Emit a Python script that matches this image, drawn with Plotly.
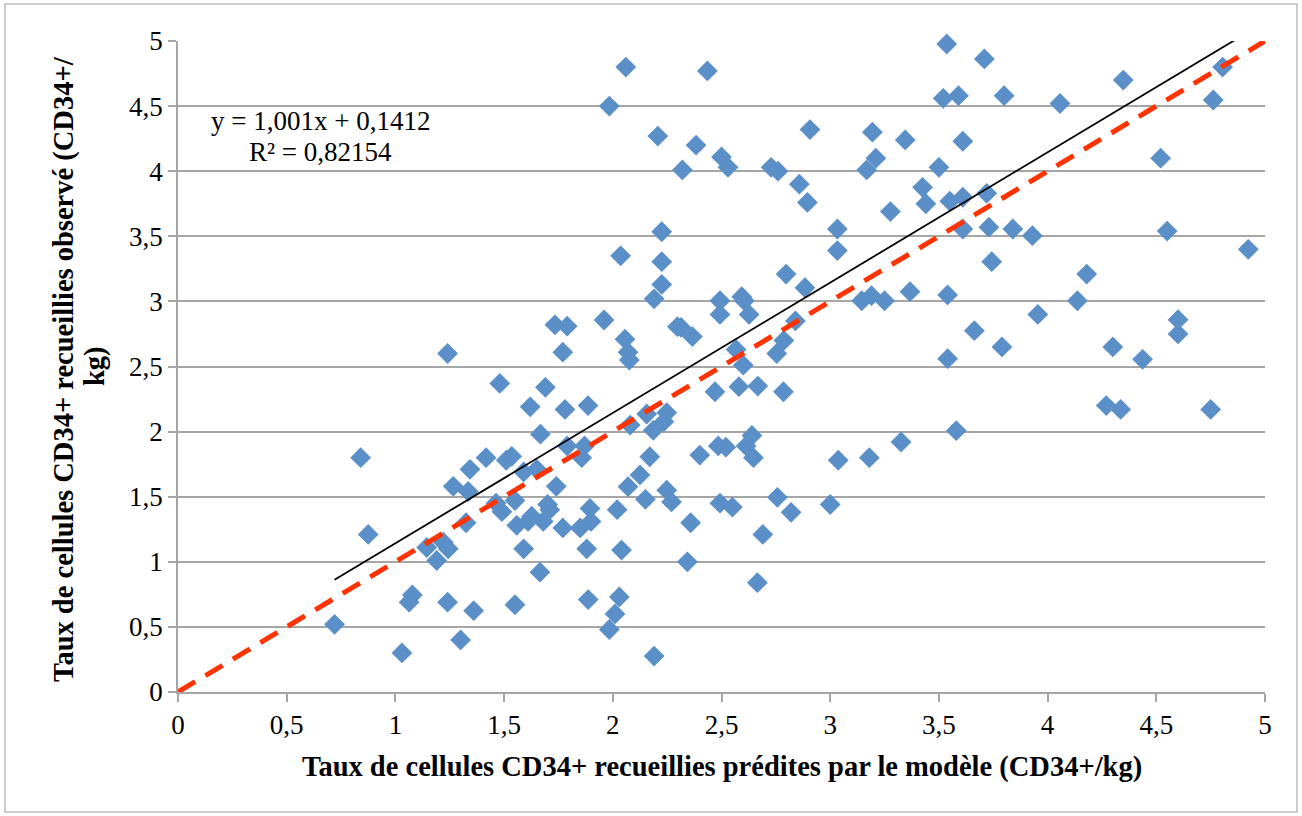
import plotly.graph_objects as go

# ---- data ----
predicted = [
    0.72, 0.84, 0.875, 1.03, 1.063, 1.078, 1.144, 1.19, 1.22, 1.243,
    1.24, 1.24, 1.266, 1.30, 1.325, 1.335, 1.343, 1.36, 1.417, 1.463,
    1.48, 1.49, 1.51, 1.535, 1.55, 1.55, 1.558, 1.59, 1.59, 1.61,
    1.62, 1.627, 1.65, 1.665, 1.667, 1.68, 1.69, 1.70, 1.71, 1.734,
    1.74, 1.77, 1.77, 1.78, 1.79, 1.79, 1.85, 1.857, 1.87, 1.88,
    1.886, 1.887, 1.895, 1.90, 1.96, 1.984, 1.984, 2.01, 2.02, 2.04,
    2.03, 2.036, 2.06, 2.056, 2.07, 2.076, 2.07, 2.08, 2.125, 2.15,
    2.156, 2.17, 2.186, 2.19, 2.19, 2.207, 2.225, 2.225, 2.225, 2.235,
    2.248, 2.248, 2.27, 2.297, 2.314, 2.32, 2.343, 2.358, 2.366, 2.383,
    2.40, 2.435, 2.47, 2.485, 2.493, 2.493, 2.493, 2.50, 2.52, 2.53,
    2.55, 2.567, 2.58, 2.593, 2.60, 2.605, 2.613, 2.627, 2.64, 2.647,
    2.665, 2.667, 2.69, 2.728, 2.754, 2.757, 2.76, 2.785, 2.787, 2.797,
    2.82, 2.84, 2.858, 2.884, 2.895, 2.907, 3.00, 3.033, 3.033, 3.037,
    3.145, 3.168, 3.18, 3.19, 3.194, 3.21, 3.25, 3.277, 3.326, 3.345,
    3.367, 3.425, 3.44, 3.50, 3.52, 3.536, 3.54, 3.54, 3.55, 3.58,
    3.59, 3.61, 3.61, 3.61, 3.663, 3.709, 3.72, 3.73, 3.743, 3.79,
    3.80, 3.84, 3.93, 3.955, 4.057, 4.137, 4.18, 4.27, 4.30, 4.336,
    4.348, 4.437, 4.52, 4.55, 4.60, 4.60, 4.75, 4.762, 4.805, 4.923,
]
observed = [
    0.52, 1.80, 1.21, 0.30, 0.69, 0.745, 1.11, 1.01, 1.15, 1.10,
    0.69, 2.60, 1.58, 0.40, 1.30, 1.54, 1.71, 0.625, 1.80, 1.45,
    2.37, 1.385, 1.78, 1.81, 0.67, 1.47, 1.28, 1.10, 1.69, 1.31,
    2.19, 1.35, 1.71, 0.92, 1.98, 1.31, 2.34, 1.44, 1.40, 2.82,
    1.58, 2.61, 1.26, 2.17, 1.89, 2.81, 1.26, 1.80, 1.89, 1.10,
    2.20, 0.71, 1.41, 1.31, 2.857, 4.50, 0.48, 0.60, 1.40, 1.09,
    0.73, 3.35, 4.80, 2.71, 2.61, 2.55, 1.577, 2.05, 1.667, 1.48,
    2.135, 1.807, 2.01, 0.276, 3.02, 4.27, 3.535, 3.305, 3.13, 2.076,
    2.145, 1.55, 1.46, 2.806, 2.80, 4.01, 1.00, 1.30, 2.73, 4.20,
    1.82, 4.77, 2.306, 1.89, 3.005, 2.90, 1.45, 4.11, 1.88, 4.03,
    1.42, 2.63, 2.345, 3.036, 2.51, 3.005, 1.89, 2.90, 1.97, 1.80,
    0.84, 2.35, 1.21, 4.03, 2.60, 1.495, 4.00, 2.306, 2.70, 3.21,
    1.38, 2.85, 3.90, 3.105, 3.76, 4.32, 1.44, 3.556, 3.39, 1.78,
    3.005, 4.01, 1.80, 3.044, 4.30, 4.10, 3.005, 3.69, 1.92, 4.24,
    3.075, 3.876, 3.75, 4.03, 4.56, 4.977, 3.05, 2.56, 3.77, 2.007,
    4.58, 3.80, 4.23, 3.556, 2.775, 4.862, 3.83, 3.57, 3.305, 2.65,
    4.58, 3.556, 3.505, 2.90, 4.52, 3.005, 3.21, 2.20, 2.65, 2.17,
    4.70, 2.555, 4.10, 3.54, 2.86, 2.75, 2.17, 4.547, 4.80, 3.40,
]

trend_slope = 1.001
trend_intercept = 0.1412
r_squared_label = "0,82154"
equation_label = "y = 1,001x + 0,1412"

axis_range = [0, 5]
tick_values = [0, 0.5, 1, 1.5, 2, 2.5, 3, 3.5, 4, 4.5, 5]
tick_labels = ["0", "0,5", "1", "1,5", "2", "2,5", "3", "3,5", "4", "4,5", "5"]

x_title = "Taux de cellules CD34+ recueillies prédites par le modèle (CD34+/kg)"
y_title_line1 = "Taux de cellules CD34+ recueillies observé (CD34+/"
y_title_line2 = "kg)"

# ---- derived lines ----
trend_x = [min(predicted), max(predicted)]
trend_y = [trend_slope * v + trend_intercept for v in trend_x]
identity_x = list(axis_range)
identity_y = list(axis_range)

FONT = "Liberation Serif"
GRID = "#A6A6A6"

fig = go.Figure()
fig.add_trace(go.Scatter(
    x=predicted, y=observed, mode="markers",
    marker=dict(symbol="diamond", size=16, color="#5B8FC8", line=dict(width=0)),
    showlegend=False, cliponaxis=False,
))
fig.add_trace(go.Scatter(
    x=identity_x, y=identity_y, mode="lines",
    line=dict(color="#FF3300", width=5, dash="20px,12px"),
    showlegend=False,
))
fig.add_trace(go.Scatter(
    x=trend_x, y=trend_y, mode="lines",
    line=dict(color="black", width=1.8),
    showlegend=False,
))

W, H = 1302, 816
L, R, T, B = 178, 37, 41, 124
pw, ph = W - L - R, H - T - B


def px_x(p):
    return (p - L) / pw


def px_y(p):
    return (H - B - p) / ph


fig.update_layout(
    width=W, height=H, autosize=False,
    margin=dict(l=L, r=R, t=T, b=B),
    paper_bgcolor="white", plot_bgcolor="white",
    font=dict(family=FONT, size=28, color="black"),
    xaxis=dict(
        range=axis_range, tickvals=tick_values, ticktext=tick_labels,
        showgrid=False, zeroline=False, showline=True, linecolor=GRID, linewidth=1.5,
        ticks="outside", ticklen=8, tickcolor=GRID, tickwidth=1.5,
        tickfont=dict(family=FONT, size=27, color="black"),
    ),
    yaxis=dict(
        range=axis_range, tickvals=tick_values, ticktext=tick_labels,
        showgrid=True, gridcolor=GRID, gridwidth=1.5,
        zeroline=False, showline=True, linecolor=GRID, linewidth=1.5,
        ticks="outside", ticklen=8, tickcolor=GRID, tickwidth=1.5,
        tickfont=dict(family=FONT, size=27, color="black"),
    ),
    annotations=[
        dict(text=f"<b>{x_title}</b>", xref="paper", yref="paper",
             x=0.5, y=px_y(767), xanchor="center", yanchor="middle",
             showarrow=False, font=dict(family=FONT, size=28.5, color="black")),
        dict(text=f"<b>{y_title_line1}</b>", xref="paper", yref="paper",
             x=px_x(64), y=px_y(369), xanchor="center", yanchor="middle",
             textangle=-90, showarrow=False,
             font=dict(family=FONT, size=28.5, color="black")),
        dict(text=f"<b>{y_title_line2}</b>", xref="paper", yref="paper",
             x=px_x(95), y=px_y(366), xanchor="center", yanchor="middle",
             textangle=-90, showarrow=False,
             font=dict(family=FONT, size=28.5, color="black")),
        dict(text=equation_label, xref="paper", yref="paper",
             x=px_x(320), y=px_y(121), xanchor="center", yanchor="middle",
             showarrow=False, font=dict(family=FONT, size=27, color="black")),
        dict(text=f"R² = {r_squared_label}", xref="paper", yref="paper",
             x=px_x(320), y=px_y(152), xanchor="center", yanchor="middle",
             showarrow=False, font=dict(family=FONT, size=27, color="black")),
    ],
    shapes=[
        dict(type="rect", xref="paper", yref="paper",
             x0=px_x(5), x1=px_x(1297), y0=px_y(812), y1=px_y(4),
             line=dict(color="#BFBFBF", width=1.5), fillcolor="rgba(0,0,0,0)",
             layer="below"),
    ],
)

fig.write_html(
    "out.html",
    config={"displayModeBar": False},
    post_script="document.body.style.margin='0';document.body.style.overflow='hidden';",
)
